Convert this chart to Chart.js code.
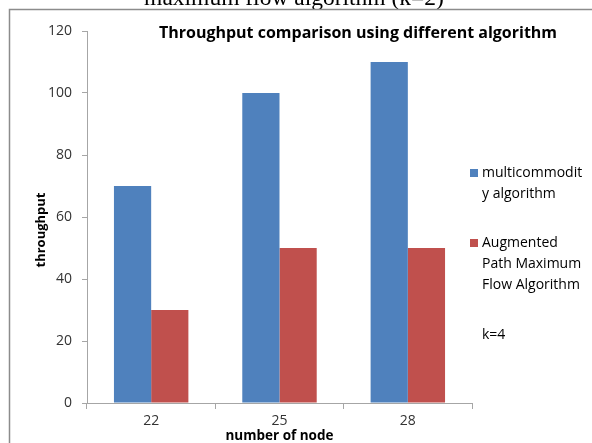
<!DOCTYPE html>
<html>
<head>
<meta charset="utf-8">
<script src="https://cdn.jsdelivr.net/npm/chart.js@4"></script>
<style>
html,body{margin:0;padding:0;background:#fff;}
#wrap{width:592px;height:443px;position:relative;}
</style>
</head>
<body>
<div id="wrap"><canvas id="c" width="592" height="443"></canvas></div>
<script>
const categories = ['22', '25', '28'];
const multicommodityValues = [70, 100, 110];
const augmentedPathValues = [30, 50, 50];
const seriesLabels = [['multicommodit', 'y algorithm'], ['Augmented', 'Path Maximum', 'Flow Algorithm']];
const yTicks = [0, 20, 40, 60, 80, 100, 120];
const chartTitle = 'Throughput comparison using different algorithm';
const pageCaption = 'maximum flow algorithm (k=2)';
const noteText = 'k=4';
const yAxisTitle = 'throughput';
const xAxisTitle = 'number of node';

const FONT = "'Open Sans', 'Liberation Sans', sans-serif";

const decorPlugin = {
  id: 'decor',
  beforeDraw(chart) {
    const ctx = chart.ctx;
    ctx.save();
    ctx.fillStyle = '#fff';
    ctx.fillRect(0, 0, chart.width, chart.height);
    // cut-off caption above the frame
    ctx.fillStyle = '#000';
    ctx.font = "23.5px 'Liberation Serif', serif";
    ctx.textAlign = 'center';
    ctx.textBaseline = 'alphabetic';
    ctx.fillText(pageCaption, 294, 5);
    // frame
    ctx.strokeStyle = '#8c8c8c';
    ctx.lineWidth = 1.5;
    ctx.beginPath();
    ctx.moveTo(9.5, chart.height + 5);
    ctx.lineTo(9.5, 9.5);
    ctx.lineTo(chart.width + 5, 9.5);
    ctx.stroke();
    ctx.restore();
  },
  afterDraw(chart) {
    const ctx = chart.ctx;
    ctx.save();
    // chart title
    ctx.fillStyle = '#000';
    ctx.font = "bold 16px " + FONT;
    ctx.textAlign = 'center';
    ctx.textBaseline = 'middle';
    ctx.fillText(chartTitle, 358, 33);
    // y axis title
    ctx.save();
    ctx.translate(41, 230);
    ctx.rotate(-Math.PI / 2);
    ctx.font = "bold 13px " + FONT;
    ctx.fillText(yAxisTitle, 0, 0);
    ctx.restore();
    // legend
    ctx.font = "14px " + FONT;
    ctx.textAlign = 'left';
    const starts = [173, 243];
    chart.data.datasets.forEach((ds, i) => {
      const y0 = starts[i];
      ctx.fillStyle = ds.backgroundColor;
      ctx.fillRect(470, y0 - 4, 8, 8);
      ctx.fillStyle = '#000';
      ds.label.forEach((line, j) => ctx.fillText(line, 482, y0 + j * 21));
    });
    ctx.fillText(noteText, 482, 335);
    ctx.restore();
  }
};

new Chart(document.getElementById('c'), {
  type: 'bar',
  data: {
    labels: categories,
    datasets: [
      { label: seriesLabels[0], data: multicommodityValues, backgroundColor: '#4F81BD', borderWidth: 0 },
      { label: seriesLabels[1], data: augmentedPathValues, backgroundColor: '#C0504D', borderWidth: 0 }
    ]
  },
  options: {
    responsive: false,
    animation: false,
    devicePixelRatio: 1,
    layout: { padding: { left: 28, right: 120, top: 31, bottom: 0 } },
    plugins: { legend: { display: false }, title: { display: false }, tooltip: { enabled: false } },
    datasets: { bar: { categoryPercentage: 0.58, barPercentage: 1.0 } },
    scales: {
      x: {
        offset: true,
        grid: { offset: true, drawOnChartArea: false, drawTicks: true, tickLength: 6, color: '#a6a6a6', tickColor: '#a6a6a6' },
        border: { color: '#a6a6a6', width: 1 },
        ticks: { color: '#333333', font: { family: FONT, size: 14 }, padding: 4 },
        title: { display: true, text: xAxisTitle, color: '#000', font: { family: FONT, size: 13.5, weight: 'bold' }, padding: { top: 0, bottom: -1 } },
        afterFit(scale) { scale.height = 40; }
      },
      y: {
        min: 0, max: 120,
        afterBuildTicks(scale) { scale.ticks = yTicks.map(v => ({ value: v })); },
        grid: { drawOnChartArea: false, drawTicks: true, tickLength: 5, color: '#a6a6a6', tickColor: '#a6a6a6' },
        border: { color: '#a6a6a6', width: 1 },
        ticks: { color: '#333333', font: { family: FONT, size: 14 }, padding: 10 },
        title: { display: false },
        afterFit(scale) { scale.width = 59; }
      }
    }
  },
  plugins: [decorPlugin]
});
</script>
</body>
</html>
